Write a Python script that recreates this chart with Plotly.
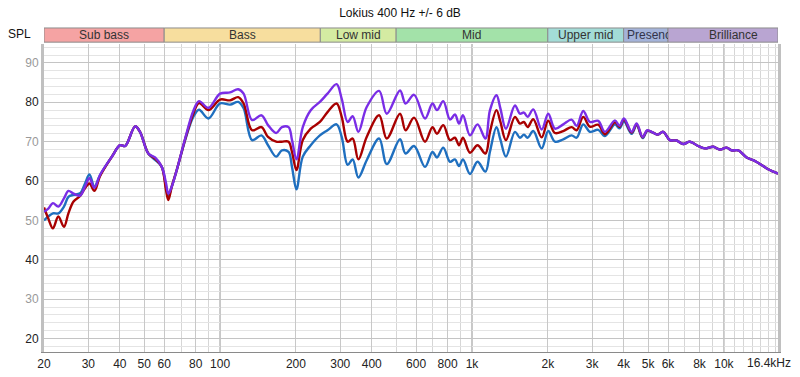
import numpy as np
import plotly.graph_objects as go

# ---------------- data ----------------
FREQ_HZ = [20.0, 20.8, 21.7, 22.8, 24.0, 25.0, 26.2, 27.8, 29.1, 30.3, 31.7, 33.4,
           37.2, 40.1, 42.0, 46.0, 48.1, 51.9, 55.2, 58.7, 61.0, 62.3, 64.3, 67.3,
           73.8, 78.3, 82.5, 89.9, 100, 109.6, 118, 124, 134, 146, 155, 167, 176,
           187, 193, 201, 213, 229, 249, 267, 290, 304, 321, 336, 354, 382, 428,
           459, 518, 545, 589, 651, 697, 726, 769, 818, 856, 888, 921, 982, 1052,
           1131, 1179, 1251, 1297, 1364, 1481, 1550, 1608, 1663, 1751, 1891, 2008,
           2135, 2303, 2486, 2603, 2765, 2939, 3171, 3371, 3695, 3849, 4011, 4303,
           4504, 4758, 4962, 5228, 5472, 5742, 6106, 6491, 6895, 7331, 7907, 8406,
           9070, 9640, 10250, 10730, 11400, 12310, 13080, 14110, 14990, 16400]

SPL_PLUS6 = [52.2, 53.0, 54.4, 53.5, 55.6, 57.5, 56.8, 56.3, 58.6, 60.7, 58.3, 61.6,
             66.2, 69.1, 68.9, 73.9, 72.5, 67.0, 66.0, 63.6, 59.5, 56.8, 58.6, 62.8,
             72.4, 77.8, 80.3, 78.6, 82.2, 82.5, 83.3, 82.2, 75.5, 76.7, 74.2, 72.2, 73.7,
             73.7, 70.4, 65.5, 73.7, 78.0, 80.1, 82.2, 84.6, 80.9, 75.0, 76.5, 72.5, 78.8, 82.9,
             77.1, 83.0, 79.7, 81.9, 75.9, 79.7, 78.0, 80.3, 75.6, 76.9, 74.6, 76.7, 71.6, 74.4,
             70.8, 78.0, 81.8, 78.4, 73.3, 79.2, 77.1, 77.4, 76.3, 78.2, 73.1, 77.1,
             73.3, 74.4, 75.6, 74.0, 77.8, 75.0, 75.3, 72.5, 75.4, 74.0, 75.9, 72.5,
             74.6, 71.2, 72.9, 72.3, 71.8, 72.5, 70.4, 70.3, 69.4, 70.0, 68.9, 68.3,
             68.7, 68.0, 68.5, 67.8, 67.8, 66.0, 65.3, 64.1, 63.0, 61.9]

SPL_BASE = [53.3, 50.5, 48.0, 51.0, 48.4, 51.8, 54.8, 56.2, 58.2, 59.4, 57.5, 61.3,
            66.2, 69.1, 68.9, 73.9, 72.5, 67.0, 65.7, 63.6, 57.7, 55.2, 58.6, 62.8,
            72.1, 77.1, 79.8, 78.0, 80.7, 80.5, 81.3, 79.7, 72.9, 73.7, 71.2, 70.0, 70.0,
            70.0, 67.4, 62.8, 70.4, 73.3, 75.0, 77.5, 79.7, 76.3, 70.0, 70.8, 65.5, 71.2, 76.7,
            70.8, 77.1, 72.9, 76.1, 70.0, 73.7, 72.0, 74.2, 70.4, 71.0, 69.1, 71.0, 67.2, 69.1,
            67.0, 72.5, 78.0, 75.0, 70.4, 76.3, 74.6, 75.0, 73.7, 75.7, 71.1, 75.3,
            72.2, 72.7, 73.7, 72.9, 76.3, 73.8, 74.3, 71.9, 74.9, 73.8, 75.6, 72.3,
            74.4, 71.1, 72.8, 72.3, 71.8, 72.5, 70.4, 70.3, 69.4, 70.0, 68.9, 68.3,
            68.7, 68.0, 68.5, 67.8, 67.8, 66.0, 65.3, 64.1, 63.0, 61.9]

SPL_MINUS6 = [50.0, 51.0, 51.8, 51.8, 53.5, 56.0, 56.5, 56.9, 59.4, 61.7, 58.6, 61.5,
              66.2, 69.1, 68.9, 73.9, 72.5, 67.0, 65.4, 63.6, 58.5, 56.0, 58.6, 62.8,
              71.8, 76.3, 78.1, 75.9, 79.7, 79.4, 80.1, 78.5, 70.4, 71.6, 69.1, 66.2, 67.8,
              67.4, 63.6, 57.9, 66.2, 69.1, 71.6, 72.9, 74.4, 71.2, 64.1, 65.5, 60.9, 65.3, 70.8,
              64.3, 70.6, 67.0, 68.9, 63.6, 67.4, 66.0, 68.5, 64.9, 65.5, 63.8, 65.5, 61.8, 64.9,
              62.4, 67.5, 73.7, 70.5, 66.2, 72.5, 71.0, 71.8, 71.0, 72.7, 68.3, 72.7,
              70.0, 70.6, 71.6, 71.0, 74.4, 72.5, 73.0, 71.4, 74.4, 73.4, 75.1, 72.0,
              74.2, 70.9, 72.7, 72.3, 71.8, 72.5, 70.4, 70.3, 69.4, 70.0, 68.9, 68.3,
              68.7, 68.0, 68.5, 67.8, 67.8, 66.0, 65.3, 64.1, 63.0, 61.9]

SERIES_NAMES = ["-6 dB", "0 dB", "+6 dB"]
SERIES_COLORS = ["#1f6fbf", "#a80000", "#7a2de6"]

BAND_NAMES = ["Sub bass", "Bass", "Low mid", "Mid", "Upper mid", "Presence", "Brilliance"]
BAND_EDGES = [20, 60, 250, 500, 2000, 4000, 6000, 20000]
BAND_COLORS = ["#f5a3a3", "#f7de9e", "#d4eba2", "#a3e2a9", "#a3dcd7", "#a4b3da", "#b9a5d2"]

X_TICK_VALS = [20, 30, 40, 50, 60, 80, 100, 200, 300, 400, 600, 800, 1000, 2000, 3000,
               4000, 5000, 6000, 8000, 10000]
X_TICK_TEXT = ["20", "30", "40", "50", "60", "80", "100", "200", "300", "400", "600", "800",
               "1k", "2k", "3k", "4k", "5k", "6k", "8k", "10k"]
X_END_LABEL = "16.4kHz"
X_MINOR_VALS = [70, 90, 500, 700, 900, 7000, 9000, 11000, 12000, 13000, 14000, 15000, 16000]
X_DECADES = [100, 1000, 10000]
Y_TICK_VALS = [20, 30, 40, 50, 60, 70, 80, 90]

X_MIN, X_MAX = 20, 16400
Y_MIN, Y_MAX = 16.6, 94.8

FONT = "Liberation Sans"

fig = go.Figure()
for name, color, ys in zip(SERIES_NAMES, SERIES_COLORS, [SPL_MINUS6, SPL_BASE, SPL_PLUS6]):
    fig.add_trace(go.Scatter(x=FREQ_HZ, y=ys, mode="lines", name=name,
                             line=dict(color=color, width=2.4, shape="spline", smoothing=1.0)))

shapes = []
annotations = []
# frequency band bar
for i, (nm, col) in enumerate(zip(BAND_NAMES, BAND_COLORS)):
    e0, e1 = BAND_EDGES[i], BAND_EDGES[i + 1]
    shapes.append(dict(type="rect", xref="x", yref="paper", x0=e0, x1=min(e1, X_MAX),
                       y0=1.006, y1=1.052, fillcolor=col, line=dict(color="#8c8c8c", width=1),
                       layer="above"))
    if nm == "Presence":
        annotations.append(dict(x=np.log10(e0) + 0.004, y=1.029, xref="x", yref="paper",
                                text=nm, showarrow=False, xanchor="left", yanchor="middle",
                                align="left", width=41,
                                font=dict(family=FONT, size=12, color="#33334a")))
    else:
        annotations.append(dict(x=np.log10(np.sqrt(e0 * e1)), y=1.029, xref="x", yref="paper",
                                text=nm, showarrow=False, xanchor="center", yanchor="middle",
                                font=dict(family=FONT, size=12, color="#333333")))

# darker decade grid lines
for d in X_DECADES:
    shapes.append(dict(type="line", xref="x", yref="paper", x0=d, x1=d, y0=0, y1=1,
                       line=dict(color="#8a8a8a", width=1), layer="below"))

annotations.append(dict(x=-0.033, y=1.032, xref="paper", yref="paper", text="SPL",
                        showarrow=False, xanchor="center", yanchor="middle",
                        font=dict(family=FONT, size=12, color="#111")))
# end-of-axis frequency label
annotations.append(dict(x=1.0205, y=-0.036, xref="paper", yref="paper", text=X_END_LABEL,
                        showarrow=False, xanchor="right", yanchor="middle",
                        font=dict(family=FONT, size=12, color="#222")))

y_text = []
for v in Y_TICK_VALS:
    c = "#222222" if (v // 10) % 2 == 0 else "#999999"
    y_text.append(f'<span style="color:{c}">{v}</span>')

fig.update_layout(
    width=800, height=377,
    margin=dict(l=44, r=22, t=44, b=25, autoexpand=False),
    paper_bgcolor="white", plot_bgcolor="white",
    showlegend=False,
    title=dict(text="Lokius 400 Hz +/- 6 dB", x=0.5, xref="container", xanchor="center",
               y=1 - 13 / 377, yanchor="middle",
               font=dict(family=FONT, size=12, color="#111")),
    font=dict(family=FONT, size=12, color="#222"),
    shapes=shapes, annotations=annotations,
    xaxis=dict(type="log", range=[np.log10(X_MIN), np.log10(X_MAX)],
               tickmode="array", tickvals=X_TICK_VALS, ticktext=X_TICK_TEXT,
               showgrid=True, gridcolor="#c8c8c8", gridwidth=1,
               minor=dict(tickmode="array", tickvals=X_MINOR_VALS, showgrid=True,
                          gridcolor="#d6d6d6", ticks=""),
               ticks="", ticklabelstandoff=1, automargin=False,
               zeroline=False, showline=True, linecolor="#8a8a8a", linewidth=1,
               tickfont=dict(family=FONT, size=12, color="#222")),
    yaxis=dict(range=[Y_MIN, Y_MAX], tickmode="array", tickvals=Y_TICK_VALS, ticktext=y_text,
               showgrid=True, gridcolor="#c4c4c4", gridwidth=1,
               minor=dict(dtick=2, tick0=0, showgrid=True, gridcolor="#e4e4e4", ticks=""),
               ticks="", zeroline=False, showline=True, mirror=True, automargin=False,
               linecolor="#c0c0c0", linewidth=3,
               tickfont=dict(family=FONT, size=12)),
)

fig.write_html("out.html", config={"displayModeBar": False},
               post_script="document.body.style.margin='0';document.body.style.padding='0';")
